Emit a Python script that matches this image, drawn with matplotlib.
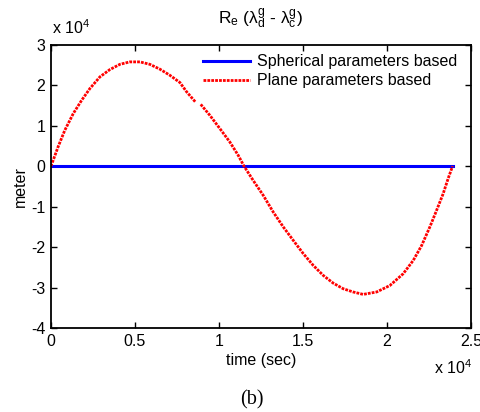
import numpy as np
import matplotlib.pyplot as plt

plt.rcParams['font.family'] = ['Liberation Sans', 'DejaVu Sans']
plt.rcParams['mathtext.default'] = 'regular'

# values (time in 1e4 s, meters in 1e4 m)
t_plane = [0, 0.014, 0.043, 0.083, 0.133, 0.183, 0.232, 0.292, 0.351, 0.411,
           0.470, 0.530, 0.589, 0.649, 0.708, 0.768, 0.808, 0.862,
           0.877, 0.892, 0.946, 1.006, 1.065, 1.115, 1.150, 1.204, 1.264,
           1.323, 1.383, 1.442, 1.502, 1.561, 1.621, 1.680, 1.740, 1.799,
           1.859, 1.939, 2.018, 2.097, 2.157, 2.207, 2.256, 2.296, 2.335,
           2.365, 2.391]
r_plane = [0, 0.15, 0.48, 0.89, 1.30, 1.63, 1.92, 2.21, 2.39, 2.52,
           2.58, 2.58, 2.52, 2.40, 2.25, 2.07, 1.84, 1.58,
           np.nan, 1.53, 1.26, 0.93, 0.60, 0.27, 0.0, -0.35, -0.72,
           -1.13, -1.50, -1.83, -2.16, -2.45, -2.70, -2.89, -3.03, -3.11,
           -3.17, -3.11, -2.95, -2.66, -2.33, -1.96, -1.50, -1.09, -0.68,
           -0.30, 0.0]
t_sph = [0, 2.391]
r_sph = [0, 0]

scale = 1e4

fig = plt.figure(figsize=(4.8, 4.12), dpi=100)
ax = fig.add_axes([0.106, 0.204, 0.875, 0.687])

ax.plot(np.array(t_sph) * scale, np.array(r_sph) * scale, color='#0000ff', lw=2.2,
        label='Spherical parameters based')
ax.plot(np.array(t_plane) * scale, np.array(r_plane) * scale, color='#ff0000', lw=2,
        linestyle=(0, (1, 0.4)), label='Plane parameters based')

ax.set_xlim(0, 2.5e4)
ax.set_ylim(-4e4, 3e4)
ax.set_xticks(np.arange(0, 2.51, 0.5) * scale)
ax.set_xticklabels(['0', '0.5', '1', '1.5', '2', '2.5'])
ax.set_yticks(np.arange(-4, 3.1, 1) * scale)
ax.set_yticklabels(['-4', '-3', '-2', '-1', '0', '1', '2', '3'])
ax.tick_params(direction='in', top=True, right=True, labelsize=11.5, length=4,
               width=1, pad=4)
for s in ax.spines.values():
    s.set_linewidth(1.3)

ax.set_xlabel('time (sec)', fontsize=11.5, labelpad=3)
ax.set_ylabel('meter', fontsize=11.5, labelpad=2)
ax.set_title(r'R$_e$ ($\lambda_d^g$ - $\lambda_c^g$)', fontsize=12.5, pad=15)

fig.text(0.108, 0.91, r'x 10$^4$', fontsize=11.5, ha='left', va='bottom')
fig.text(0.905, 0.085, r'x 10$^4$', fontsize=11.5, ha='left', va='bottom')
fig.text(0.525, 0.005, '(b)', fontsize=14.5, ha='center', va='bottom',
         family='Liberation Serif')

ax.legend(loc='upper right', frameon=False, fontsize=11.5, handlelength=2.9,
          handletextpad=0.45, labelspacing=0.25, borderaxespad=0.2,
          bbox_to_anchor=(0.99, 1.0))

fig.savefig('out.png', dpi=100)
